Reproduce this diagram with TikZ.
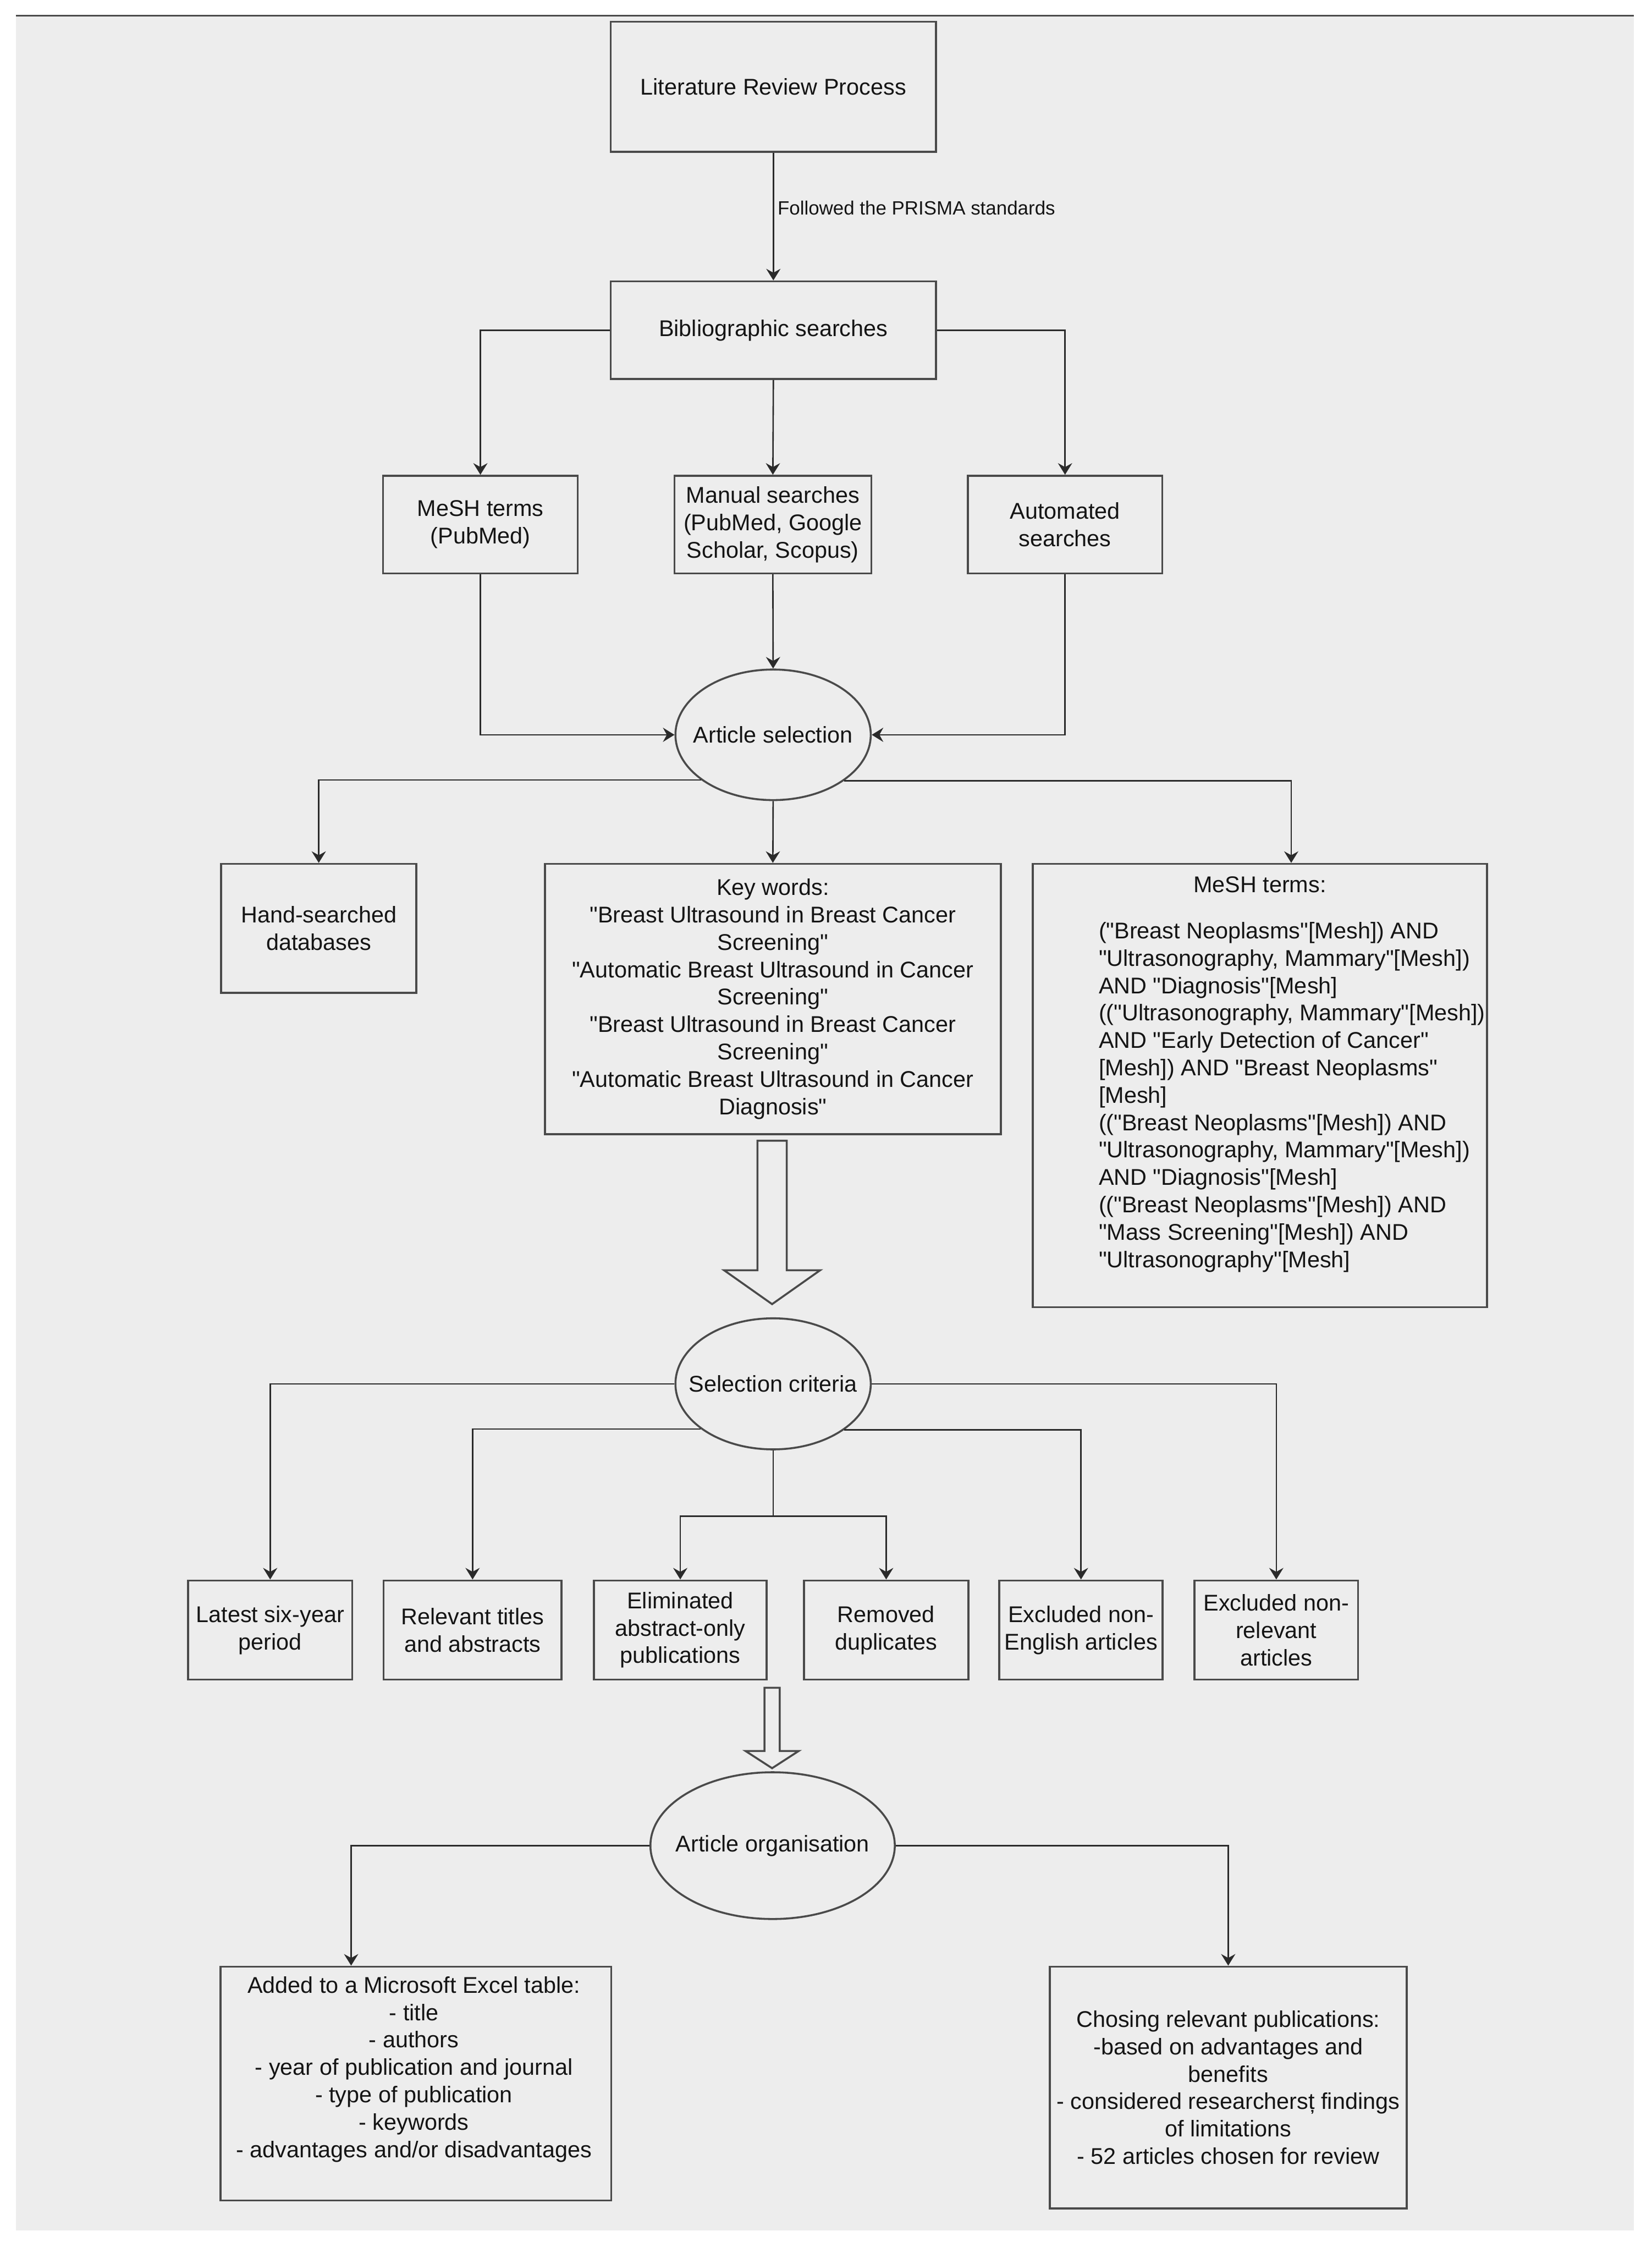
\documentclass[tikz,border=0pt]{standalone}
\usepackage{fontspec}
\setmainfont{Liberation Sans}[Ligatures=TeXOff]
\usetikzlibrary{shapes.geometric,arrows.meta,calc}
\definecolor{panel}{HTML}{EDEDED}
\definecolor{stroke}{HTML}{4A4A4A}
\definecolor{ink}{HTML}{141414}
\definecolor{wire}{HTML}{2A2A2A}
\newcommand\mainfs{\fontsize{12.8}{15.4}\selectfont}
\newcommand\smallfs{\fontsize{10.8}{13}\selectfont}
\newcommand\zw[1]{\makebox[0pt]{#1}}
\tikzset{
  box/.style={draw=stroke, line width=1.1pt, fill=panel, rectangle, inner sep=0pt, align=center, text=ink, font=\mainfs},
  oval/.style={draw=stroke, line width=1.1pt, fill=panel, ellipse, inner sep=0pt, align=center, text=ink, font=\mainfs},
  txt/.style={inner sep=0pt, text=ink, font=\mainfs},
  arr/.style={draw=wire, line width=0.8pt, -{Stealth[length=6.5pt,width=8pt,inset=2.2pt]}},
  ln/.style={draw=wire, line width=0.8pt},
  hollow/.style={draw=stroke, line width=1.1pt, fill=panel, line join=miter},
}
\begin{document}
\begin{tikzpicture}
\useasboundingbox (0,0) rectangle (32.64,-44.52);
\fill[white] (0,0) rectangle (32.64,-44.52);
\fill[panel] (0.31,-0.31) rectangle (32.29,-44.07);
\draw[line width=1.1pt, draw=stroke] (0.31,-0.31) -- (32.29,-0.31);

% top part
\node[box, minimum width=6.43cm, minimum height=2.57cm] (lrp) at (15.285,-1.715) {Literature Review Process};
\node[box, minimum width=6.43cm, minimum height=1.93cm] (bib) at (15.285,-6.525) {Bibliographic searches};
\node[box, minimum width=3.85cm, minimum height=1.93cm] (mesh1) at (9.495,-10.365) {MeSH terms\\(PubMed)};
\node[box, minimum width=3.89cm, minimum height=1.93cm] (manual) at (15.275,-10.365) {Manual searches\\(PubMed, Google\\Scholar, Scopus)};
\node[box, minimum width=3.84cm, minimum height=1.93cm] (auto) at (21.05,-10.365) {Automated\\searches};
\node[oval, minimum width=3.86cm, minimum height=2.58cm] (asel) at (15.28,-14.52) {\zw{Article selection}};

\node[box, minimum width=3.86cm, minimum height=2.55cm] (hand) at (6.30,-18.345) {Hand-searched\\databases};
\node[box, minimum width=9.01cm, minimum height=5.34cm] (kw) at (15.275,-19.74) {Key words:\\"Breast Ultrasound in Breast Cancer\\Screening"\\"Automatic Breast Ultrasound in Cancer\\Screening"\\"Breast Ultrasound in Breast Cancer\\Screening"\\"Automatic Breast Ultrasound in Cancer\\Diagnosis"};
\node[box, minimum width=8.98cm, minimum height=8.76cm] (mesh2) at (24.90,-21.45) {};
\node[txt] (mesh2title) at (24.90,-17.48) {MeSH terms:};
\node[txt, anchor=west, align=left] (mesh2body) at (21.71,-21.68) {("Breast Neoplasms"[Mesh]) AND\\"Ultrasonography, Mammary"[Mesh])\\AND "Diagnosis"[Mesh]\\(("Ultrasonography, Mammary"[Mesh])\\AND "Early Detection of Cancer"\\{[}Mesh]) AND "Breast Neoplasms"\\{[}Mesh]\\(("Breast Neoplasms"[Mesh]) AND\\"Ultrasonography, Mammary"[Mesh])\\AND "Diagnosis"[Mesh]\\(("Breast Neoplasms"[Mesh]) AND\\"Mass Screening"[Mesh]) AND\\"Ultrasonography"[Mesh]};

% selection criteria
\node[oval, minimum width=3.86cm, minimum height=2.59cm] (sc) at (15.28,-27.345) {\zw{Selection criteria}};
\node[box, minimum width=3.24cm, minimum height=1.96cm] (b1) at (5.34,-32.21) {Latest six-year\\period};
\node[box, minimum width=3.52cm, minimum height=1.96cm] (b2) at (9.34,-32.21) {Relevant titles\\and abstracts};
\node[box, minimum width=3.41cm, minimum height=1.96cm] (b3) at (13.445,-32.21) {Eliminated\\abstract-only\\publications};
\node[box, minimum width=3.25cm, minimum height=1.96cm] (b4) at (17.515,-32.21) {Removed\\duplicates};
\node[box, minimum width=3.23cm, minimum height=1.96cm] (b5) at (21.365,-32.21) {Excluded non-\\English articles};
\node[box, minimum width=3.23cm, minimum height=1.96cm] (b6) at (25.225,-32.21) {Excluded non-\\relevant\\articles};

% organisation
\node[oval, minimum width=4.83cm, minimum height=2.90cm] (ao) at (15.27,-36.47) {\zw{Article organisation}};
\node[box, minimum width=7.72cm, minimum height=4.62cm] (excel) at (8.22,-41.17) {};
\node[txt, align=center] (exceltext) at (8.18,-40.89) {Added to a Microsoft Excel table:\\- title\\- authors\\- year of publication and journal\\- type of publication\\- keywords\\- advantages and/or disadvantages};
\node[box, minimum width=7.05cm, minimum height=4.78cm] (chose) at (24.275,-41.25) {Chosing relevant publications:\\-based on advantages and\\benefits\\- considered researchersț findings\\of limitations\\- 52 articles chosen for review};

% connectors
\draw[arr] (lrp.south) -- node[pos=0.43, anchor=west, xshift=0.07cm, inner sep=0pt, text=ink, font=\smallfs] (prisma) {Followed the PRISMA standards} (bib.north);
\draw[arr] (bib.west) -| (mesh1.north);
\draw[arr] (bib.south) -- (manual.north);
\draw[arr] (bib.east) -| (auto.north);
\draw[arr] (mesh1.south) |- (asel.west);
\draw[arr] (auto.south) |- (asel.east);
\draw[arr] (manual.south) -- (asel.north);

\draw[arr] (asel.212.5) -| (hand.north);
\draw[arr] (asel.327.5) -| ([xshift=0.62cm]mesh2.north);
\draw[arr] (asel.south) -- (kw.north);

\draw[hollow] (14.97,-22.54) -- (15.55,-22.54) -- (15.55,-25.10) -- (16.21,-25.10) -- (15.26,-25.77) -- (14.31,-25.10) -- (14.97,-25.10) -- cycle;

\draw[arr] (sc.west) -| (b1.north);
\draw[arr] (sc.east) -| (b6.north);
\draw[arr] (sc.212.7) -| (b2.north);
\draw[arr] (sc.327.3) -| (b5.north);
\draw[ln] (sc.south) -- ++(0,-1.30) coordinate (split);
\draw[arr] (split) -| (b3.north);
\draw[arr] (split) -| (b4.north);

\draw[hollow] (15.11,-33.35) -- (15.41,-33.35) -- (15.41,-34.60) -- (15.785,-34.60) -- (15.26,-34.94) -- (14.735,-34.60) -- (15.11,-34.60) -- cycle;

\draw[arr] (ao.west) -| ([xshift=-1.28cm]excel.north);
\draw[arr] (ao.east) -| (chose.north);
\end{tikzpicture}
\end{document}
